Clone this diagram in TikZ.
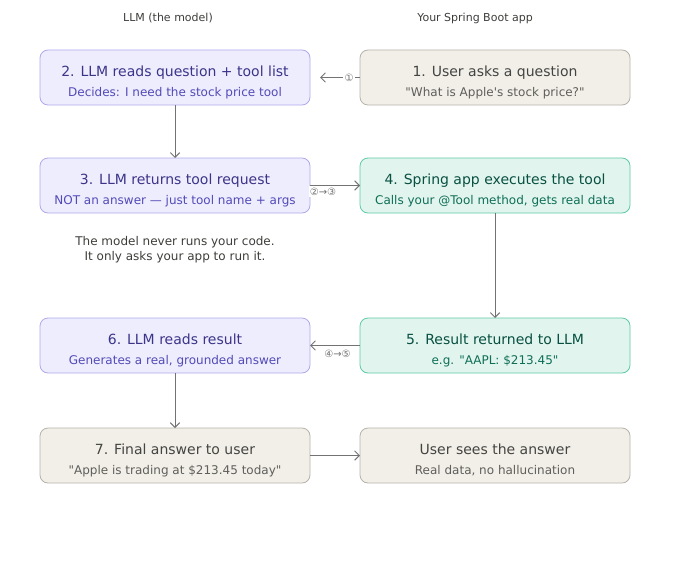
\documentclass[tikz,border=0pt]{standalone}
\usepackage{fontspec}
\newfontfamily\dejavu{DejaVu Sans}
\usetikzlibrary{arrows.meta,positioning}
\definecolor{llmfill}{HTML}{EEEDFE}
\definecolor{llmdraw}{HTML}{AFA9EC}
\definecolor{llmtitle}{HTML}{3C3489}
\definecolor{llmsub}{HTML}{534AB7}
\definecolor{appfill}{HTML}{F1EFE8}
\definecolor{appdraw}{HTML}{B4B2A9}
\definecolor{apptitle}{HTML}{444441}
\definecolor{appsub}{HTML}{5F5E5A}
\definecolor{runfill}{HTML}{E1F5EE}
\definecolor{rundraw}{HTML}{5DCAA5}
\definecolor{runtitle}{HTML}{085041}
\definecolor{runsub}{HTML}{0F6E56}
\definecolor{flowgray}{HTML}{737373}
\definecolor{headgray}{HTML}{3D3D3A}
\newcommand{\boxtxt}[3]{\rule{0pt}{15pt}#2\\ {\fontsize{9}{12}\selectfont\color{#1}#3}}

\begin{document}
\begin{tikzpicture}[font=\dejavu,
    box/.style={rectangle, rounded corners=6pt, line width=0.6pt, align=center,
                minimum width=202.5pt, minimum height=41.25pt, inner sep=0pt, outer sep=0pt,
                font=\dejavu\fontsize{10.5}{15}\selectfont},
    llmbox/.style={box, draw=llmdraw, fill=llmfill, text=llmtitle},
    appbox/.style={box, draw=appdraw, fill=appfill, text=apptitle},
    runbox/.style={box, draw=rundraw, fill=runfill, text=runtitle},
    head/.style={font=\dejavu\fontsize{8.25}{10}\selectfont, text=headgray},
    note/.style={align=center, font=\dejavu\fontsize{9}{11.25}\selectfont, text=headgray},
    flow/.style={-{Straight Barb[length=3.5pt,width=7pt]}, line width=0.75pt, flowgray},
    stepno/.style={fill=white, inner sep=1pt, font=\dejavu\fontsize{7.5}{9}\selectfont, text=flowgray}]
  \useasboundingbox (0,0) rectangle (510pt,-420pt);

  % column headers
  \node[head] (llmhead) at (126pt,-13.5pt) {LLM (the model)};
  \node[head] (apphead) at (356.25pt,-13.5pt) {Your Spring Boot app};

  % steps
  \node[llmbox] (llmread) at (131.25pt,-58.125pt)
    {\boxtxt{llmsub}{2. LLM reads question + tool list}{Decides: I need the stock price tool}};
  \node[appbox, right=37.5pt of llmread] (ask)
    {\boxtxt{appsub}{1. User asks a question}{"What is Apple's stock price?"}};
  \node[llmbox, below=39.75pt of llmread] (llmreq)
    {\boxtxt{llmsub}{3. LLM returns tool request}{NOT an answer — just tool name + args}};
  \node[runbox, right=37.5pt of llmreq] (exec)
    {\boxtxt{runsub}{4. Spring app executes the tool}{Calls your @Tool method, gets real data}};
  \node[note, below=14pt of llmreq] (remark)
    {The model never runs your code.\\It only asks your app to run it.};
  \node[runbox, below=78.75pt of exec] (result)
    {\boxtxt{runsub}{5. Result returned to LLM}{e.g. "AAPL: \$213.45"}};
  \node[llmbox, left=37.5pt of result] (llmres)
    {\boxtxt{llmsub}{6. LLM reads result}{Generates a real, grounded answer}};
  \node[appbox, below=41.25pt of llmres] (final)
    {\boxtxt{appsub}{7. Final answer to user}{"Apple is trading at \$213.45 today"}};
  \node[appbox, right=37.5pt of final] (sees)
    {\boxtxt{appsub}{User sees the answer}{Real data, no hallucination}};

  % connectors
  \draw[flow] (ask.west) -- ([xshift=7.5pt]llmread.east) node[stepno, pos=0.27] {①};
  \draw[flow] (llmread) -- (llmreq);
  \draw[flow] (llmreq) -- (exec) node[stepno, pos=0.26, yshift=-4.5pt] {②→③};
  \draw[flow] (exec) -- (result);
  \draw[flow] (result) -- (llmres) node[stepno, pos=0.45, below=2pt] {④→⑤};
  \draw[flow] (llmres) -- (final);
  \draw[flow] (final) -- (sees);
\end{tikzpicture}
\end{document}
